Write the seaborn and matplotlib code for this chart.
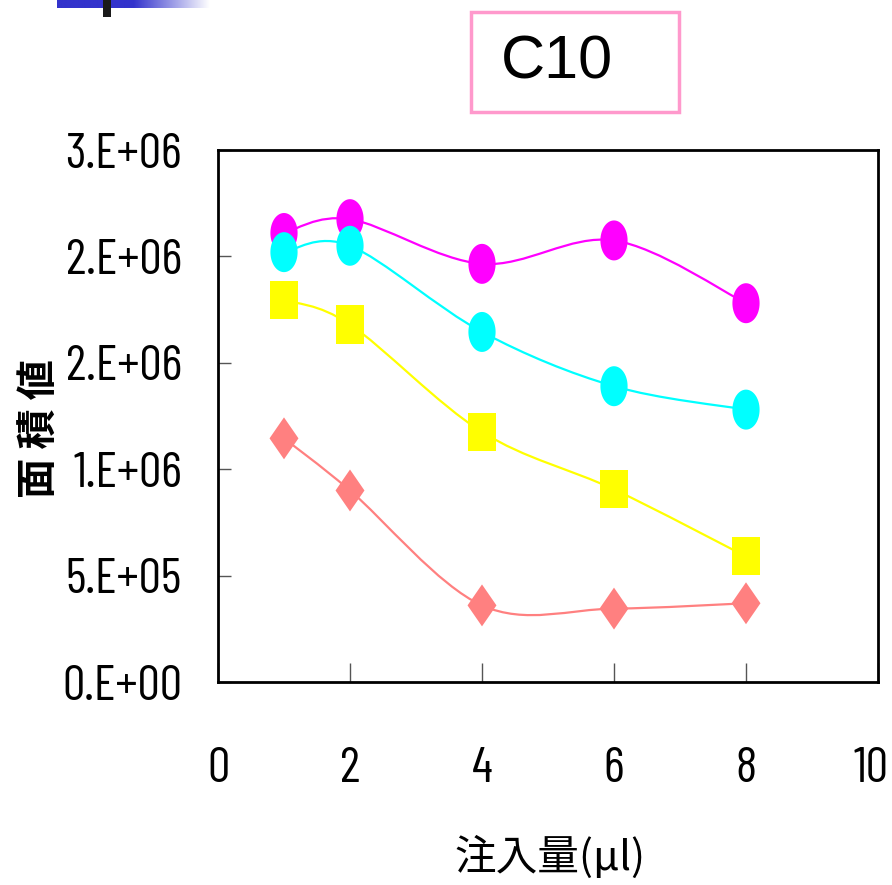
import numpy as np
import matplotlib
matplotlib.use("Agg")
import matplotlib.pyplot as plt
from matplotlib.path import Path
from matplotlib.patches import PathPatch, Rectangle
from matplotlib.transforms import ScaledTranslation
import seaborn as sns

# injection volume (µl) and peak areas for the four series
volume = [1, 2, 4, 6, 8]
area_magenta = [2.11e6, 2.175e6, 1.965e6, 2.075e6, 1.78e6]
area_cyan = [2.02e6, 2.05e6, 1.645e6, 1.39e6, 1.28e6]
area_yellow = [1.795e6, 1.68e6, 1.175e6, 0.905e6, 0.59e6]
area_salmon = [1.145e6, 0.90e6, 0.36e6, 0.345e6, 0.37e6]

x_ticks = [0, 2, 4, 6, 8, 10]
y_ticks = [0, 5e5, 1e6, 1.5e6, 2e6, 2.5e6]
y_tick_labels = ["0.E+00", "5.E+05", "1.E+06", "2.E+06", "2.E+06", "3.E+06"]

title = "C10"
x_label = "注入量(μl)"
y_label = "面 積 値"

sns.set_theme(style="white")
plt.rcParams["font.family"] = ["Barlow Condensed", "DejaVu Sans"]
plt.rcParams["text.color"] = "black"
plt.rcParams["xtick.color"] = "black"
plt.rcParams["ytick.color"] = "black"
cjk = ["Noto Sans CJK JP", "DejaVu Sans"]

fig = plt.figure(figsize=(8.92, 8.85), dpi=100)
ax = fig.add_axes([218 / 892, 203 / 885, 660 / 892, 532 / 885])


def ellipse_marker(w):
    t = np.linspace(0, 2 * np.pi, 60)
    return Path(np.column_stack([w * np.cos(t), np.sin(t)]), closed=True)


def rect_marker(w):
    v = [(-w, -1), (w, -1), (w, 1), (-w, 1), (-w, -1)]
    return Path(v, closed=True)


def diamond_marker(w):
    v = [(0, -1), (w, 0), (0, 1), (-w, 0), (0, -1)]
    return Path(v, closed=True)


def smooth_path(xs, ys):
    """Bezier curve through the points (Catmull-Rom style tangents)."""
    p = np.column_stack([xs, ys]).astype(float)
    n = len(p)
    verts = [p[0]]
    codes = [Path.MOVETO]
    for i in range(n - 1):
        p_prev = p[i - 1] if i > 0 else p[i]
        p_next = p[i + 2] if i + 2 < n else p[i + 1]
        c1 = p[i] + (p[i + 1] - p_prev) / 6
        c2 = p[i + 1] - (p_next - p[i]) / 6
        verts += [c1, c2, p[i + 1]]
        codes += [Path.CURVE4] * 3
    return Path(np.array(verts), codes)


series = [
    (area_magenta, "#FF00FF", ellipse_marker(0.68), 28.8),
    (area_cyan, "#00FFFF", ellipse_marker(0.68), 28.8),
    (area_yellow, "#FFFF00", rect_marker(0.71), 27.4),
    (area_salmon, "#FF8080", diamond_marker(0.69), 30.2),
]

for values, color, marker, msize in series:
    ax.add_patch(PathPatch(smooth_path(volume, values), facecolor="none",
                           edgecolor=color, lw=1.6, zorder=2))
    sns.scatterplot(x=volume, y=values, ax=ax, marker=marker, s=msize ** 2,
                    color=color, edgecolor="none", linewidth=0, zorder=3)

ax.set_xlim(0, 10)
ax.set_ylim(0, 2.5e6)
ax.set_xticks(x_ticks)
ax.set_xticklabels([str(v) for v in x_ticks])
ax.set_yticks(y_ticks)
ax.set_yticklabels(y_tick_labels)
ax.tick_params(axis="y", direction="in", length=9, width=1, color="#555555",
               labelsize=36, pad=26, left=True)
ax.tick_params(axis="x", direction="in", length=14, width=1, color="#555555",
               labelsize=36, pad=47, bottom=True)
# keep the last x label inside the figure edge
last = ax.get_xticklabels()[-1]
last.set_transform(last.get_transform() + ScaledTranslation(-7 / 100, 0, fig.dpi_scale_trans))
for sp in ax.spines.values():
    sp.set_color("black")
    sp.set_linewidth(2)
ax.grid(False)
ax.set_xlabel("")
ax.set_ylabel("")

fig.text(550 / 892, 1 - 857 / 885, x_label, family=cjk, fontsize=30,
         ha="center", va="center")
fig.text(40 / 892, 1 - 428 / 885, y_label, family=cjk, fontsize=29,
         rotation=90, ha="center", va="center", fontweight="bold")

# title box
fig.patches.append(Rectangle((471 / 892, 1 - 112 / 885), 208 / 892, 100 / 885,
                             transform=fig.transFigure, facecolor="white",
                             edgecolor="#FF99CC", lw=2.5))
fig.text(557 / 892, 1 - 63 / 885, title,
         family=["Liberation Sans", "DejaVu Sans"],
         fontsize=44, ha="center", va="center")

# slide header strip
hdr = fig.add_axes([57 / 892, 1 - 8 / 885, 153 / 892, 8 / 885])
hdr.axis("off")
grad = np.ones((1, 200, 3))
ramp = np.clip((np.linspace(0, 1, 200) - 0.5) / 0.5, 0, 1)
blue = np.array([0.2, 0.2, 0.8])
grad[0] = blue[None, :] * (1 - ramp[:, None]) + ramp[:, None]
hdr.imshow(grad, aspect="auto", extent=[0, 1, 0, 1])
hdr.set_xlim(0, 1)
hdr.set_ylim(0, 1)
fig.patches.append(Rectangle((103 / 892, 1 - 17 / 885), 8 / 892, 17 / 885,
                             transform=fig.transFigure, facecolor="#1a1a1a",
                             edgecolor="none"))

fig.savefig("out.png", dpi=100)
